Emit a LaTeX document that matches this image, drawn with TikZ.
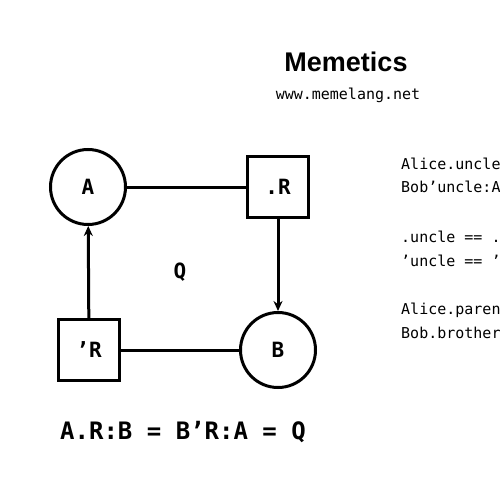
\documentclass[tikz,border=0pt]{standalone}
\usepackage{fontspec}
\setmainfont{Liberation Sans}
\setmonofont{DejaVu Sans Mono}
\usetikzlibrary{arrows.meta}

\begin{document}
\begin{tikzpicture}[x=1pt, y=-1pt,
  every node/.style={font=\ttfamily},
  term/.style={draw, circle, line width=3pt, minimum size=75pt, inner sep=0pt,
    font=\fontsize{21}{21}\selectfont\ttfamily\bfseries},
  rel/.style={draw, rectangle, line width=3pt, minimum size=61pt, inner sep=0pt,
    font=\fontsize{21}{21}\selectfont\ttfamily\bfseries},
  link/.style={line width=3pt},
  code/.style={anchor=west, inner sep=0pt, font=\fontsize{15}{15}\selectfont\ttfamily}]
  \clip (0,0) rectangle (500,500);
  \fill[white] (0,0) rectangle (500,500);

  % Header
  \node (title) at (346,62) {\fontsize{27}{27}\selectfont\rmfamily\bfseries Memetics};
  \node (site) at (348,95) {\fontsize{15}{15}\selectfont www.memelang.net};

  % Square of terms and relations
  \node[term] (a) at (88,187) {A};
  \node[rel] (rfwd) at (278,187) {.R};
  \node[term] (b) at (278,350) {B};
  \node[rel] (rinv) at (89,350) {’R};
  \node[font=\fontsize{21}{21}\selectfont\ttfamily\bfseries] (q) at (180,272) {Q};

  \draw[link] (a) -- (rfwd);
  \draw[link, -{Stealth[length=10pt, width=9pt]}] (rfwd) -- (b);
  \draw[link] (b) -- (rinv);
  \draw[link, -{Stealth[length=10pt, width=9pt]}] (rinv) -- (a);

  % Equation
  \node (eq) at (183,432) {\fontsize{24}{24}\selectfont\bfseries A.R:B = B’R:A = Q};

  % Examples
  \foreach \y/\txt in {
    164/Alice.uncle:Bob,
    187/Bob’uncle:Alice,
    238/.uncle == .parent.brother,
    262/’uncle == ’brother’parent,
    310/Alice.parent.brother:Bob,
    334/Bob.brother’parent:Alice
  } {
    \node[code] at (401,\y) {\txt};
  }
\end{tikzpicture}
\end{document}
